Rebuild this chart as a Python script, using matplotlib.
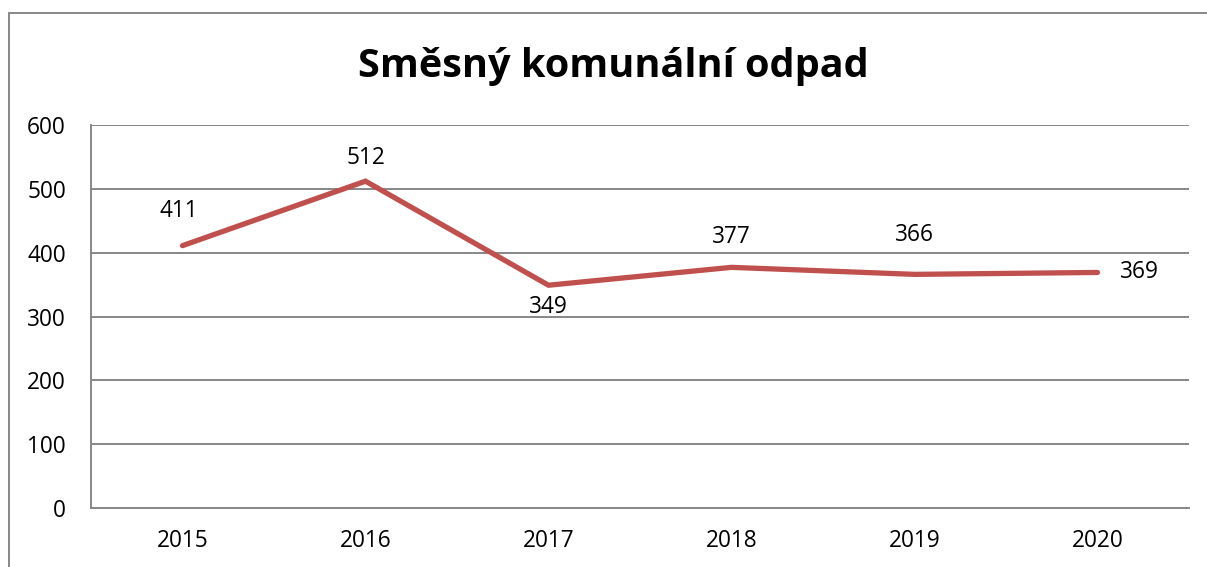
import matplotlib.pyplot as plt
from matplotlib.patches import Rectangle

roky = ['2015', '2016', '2017', '2018', '2019', '2020']
odpad = [411, 512, 349, 377, 366, 369]
# umisteni popisku u bodu (dx, dy v bodech)
posuny = [(-3, 25), (0, 17), (0, -16), (0, 22), (0, 28), (30, 0)]

plt.rcParams['font.family'] = ['Open Sans', 'DejaVu Sans']
seda = '#878787'

fig = plt.figure(figsize=(12.07, 5.67), dpi=100)
ax = fig.add_axes([91 / 1207, 59 / 567, 1098 / 1207, 383 / 567])

x = range(len(roky))
ax.plot(x, odpad, color='#C0504D', linewidth=3.8, solid_capstyle='round',
        solid_joinstyle='miter')

for i, v in enumerate(odpad):
    dx, dy = posuny[i]
    ax.annotate(str(v), (i, v), xytext=(dx, dy), textcoords='offset points',
                ha='center', va='center', fontsize=16.3)

ax.set_xlim(-0.5, 5.5)
ax.set_ylim(0, 600)
ax.set_yticks(range(0, 601, 100))
ax.set_xticks(list(x))
ax.set_xticklabels(roky)
ax.tick_params(axis='both', length=0, labelsize=16.3)
ax.tick_params(axis='y', pad=18)
ax.tick_params(axis='x', pad=15)
ax.grid(axis='y', color=seda, linewidth=1.4)
ax.set_axisbelow(True)
for s in ['top', 'right']:
    ax.spines[s].set_visible(False)
for s in ['left', 'bottom']:
    ax.spines[s].set_color(seda)
    ax.spines[s].set_linewidth(1.4)

fig.text(613 / 1207, 1 - 66 / 567, 'Směsný komunální odpad', ha='center',
         va='center', fontsize=28.5, fontweight='bold')

# ramecek grafu
fig.patches.append(Rectangle((8.5 / 1207, -0.2), 1.2, 1.2 - 12.5 / 567,
                             transform=fig.transFigure, fill=False,
                             edgecolor=seda, linewidth=1.4))

fig.savefig('out.png', dpi=100)
